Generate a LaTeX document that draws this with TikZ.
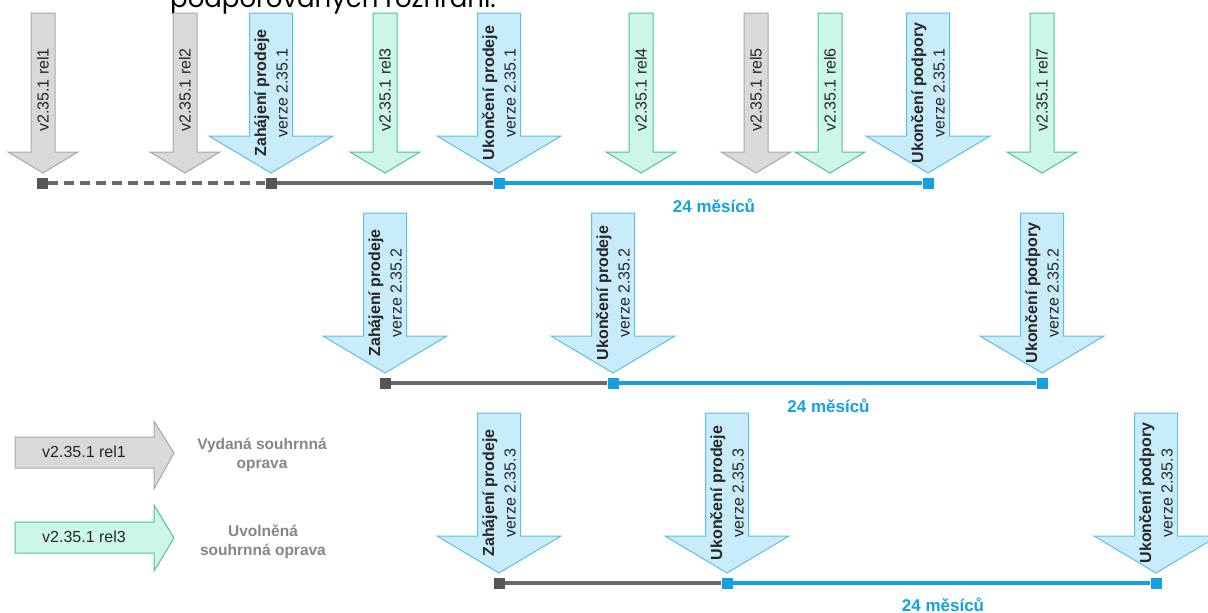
\documentclass[tikz,border=0pt]{standalone}
\usepackage{fontspec}
\setmainfont{Liberation Sans}
\newfontfamily\headfont{Poppins}
\definecolor{blfill}{RGB}{200,236,250}
\definecolor{bldraw}{RGB}{95,190,230}
\definecolor{grfill}{RGB}{204,247,230}
\definecolor{grdraw}{RGB}{80,196,140}
\definecolor{gyfill}{RGB}{217,217,217}
\definecolor{gydraw}{RGB}{168,168,168}
\definecolor{lineblue}{RGB}{20,160,225}
\definecolor{linegray}{RGB}{105,105,105}
\definecolor{sqgray}{RGB}{85,85,85}
\tikzset{
  relgray/.style={draw=gydraw, fill=gyfill, line width=1pt},
  relgreen/.style={draw=grdraw, fill=grfill, line width=1pt},
  relblue/.style={draw=bldraw, fill=blfill, line width=1pt},
  reltext/.style={rotate=90, inner sep=0pt, text=black!85, font=\fontsize{16}{20}\selectfont},
  bigtext/.style={rotate=90, inner sep=0pt, align=center, text=black!85, font=\fontsize{16}{21.5}\selectfont},
  legtext/.style={inner sep=0pt, align=center, text=gray!95, font=\bfseries\fontsize{15.5}{19}\selectfont},
  months/.style={inner sep=0pt, text=lineblue, font=\bfseries\fontsize{17}{20}\selectfont},
  sq/.style={minimum size=11pt, inner sep=0pt},
  lgray/.style={draw=linegray, line width=3.2pt},
  lblue/.style={draw=lineblue, line width=3.2pt}
}
\begin{document}
\begin{tikzpicture}[x=1pt, y=-1pt]
  \useasboundingbox (0,0) rectangle (1208,613);
  \clip (0,0) rectangle (1208,613);
  % cut-off line of the text above
  \node[anchor=base west, inner sep=0pt, font=\headfont\fontsize{26}{30}\selectfont] (head) at (170,7) {podporovaných rozhraní.};
  % releases of 2.35.1
  \foreach \x/\c/\n in {43/relgray/1, 185/relgray/2, 385/relgreen/3, 641/relgreen/4, 756/relgray/5, 830/relgreen/6, 1042/relgreen/7} {
    \draw[\c] (\x-12,13) -- ++(24,0) -- ++(0,139) -- ++(23,0) -- (\x,173) -- (\x-35,152) -- ++(23,0) -- cycle;
    \node[reltext] (rel\n) at (\x,90) {v2.35.1 rel\n};
  }
  % versions 2.35.1 .. 2.35.3
  \foreach \r in {1,2,3} {
    \begin{scope}[shift={({(\r-1)*114},{(\r-1)*200})}]
      \foreach \x/\what/\nm in {271/Zahájení prodeje/start, 499/Ukončení prodeje/endsale, 928/Ukončení podpory/endsupp} {
        \draw[relblue] (\x-21.5,13) -- ++(43,0) -- ++(0,123) -- ++(40.5,0) -- (\x,173) -- (\x-62,136) -- ++(40.5,0) -- cycle;
        \node[bigtext] (\nm\r) at (\x,93) {\textbf{\what}\\verze 2.35.\r};
      }
      \node[sq, fill=sqgray] (s\r) at (271,183) {};
      \node[sq, fill=lineblue] (m\r) at (499,183) {};
      \node[sq, fill=lineblue] (e\r) at (928,183) {};
      \draw[lgray] (s\r) -- (m\r);
      \draw[lblue] (m\r) -- (e\r);
      \node[months] (mo\r) at ({714+(\r-1)*0.5},{206-(\r-1)*0.5}) {24 měsíců};
    \end{scope}
  }
  \node[sq, fill=sqgray] (s0) at (42,183) {};
  \draw[lgray, dash pattern=on 10pt off 6pt] (s0) -- (s1);
  % legend
  \draw[relgray] (15,437) -- (154,437) -- (154,421) -- (174,453) -- (154,489) -- (154,468) -- (15,468) -- cycle;
  \node[inner sep=0pt, text=black!85, font=\fontsize{16}{20}\selectfont] (leg1) at (84,452) {v2.35.1 rel1};
  \draw[relgreen] (15,522) -- (154,522) -- (154,505) -- (174,538) -- (154,571) -- (154,553) -- (15,553) -- cycle;
  \node[inner sep=0pt, text=black!85, font=\fontsize{16}{20}\selectfont] (leg3) at (84,537) {v2.35.1 rel3};
  \node[legtext] (legtx1) at (262,455) {Vydaná souhrnná\\oprava};
  \node[legtext] (legtx3) at (263,542) {Uvolněná\\souhrnná oprava};
\end{tikzpicture}
\end{document}
